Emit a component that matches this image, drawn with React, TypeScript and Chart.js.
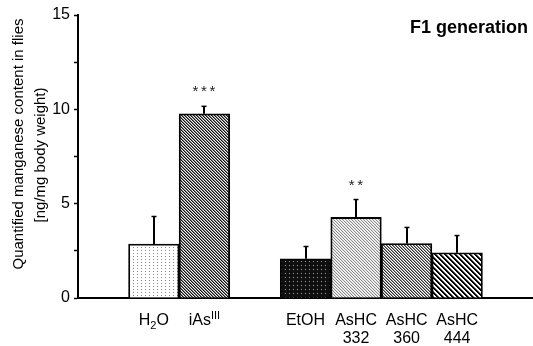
import React, { useEffect, useRef } from "react";
import { Chart, registerables } from "chart.js";

Chart.register(...registerables);

// ---- data ----
const categories = ["", "H2O", "iAsIII", "", "EtOH", "AsHC 332", "AsHC 360", "AsHC 444", ""];
const labelRow1 = ["", "H_{2}O", "iAs^{III}", "", "EtOH", "AsHC", "AsHC", "AsHC", ""];
const labelRow2 = ["", "", "", "", "", "332", "360", "444", ""];
const means: (number | null)[] = [null, 2.86, 9.76, null, 2.08, 4.27, 2.89, 2.4, null];
const errors: (number | null)[] = [null, 1.46, 0.4, null, 0.65, 0.95, 0.85, 0.91, null];
const significance = ["", "", "***", "", "", "**", "", "", ""];
const yMax = 15;
const yStep = 2.5;
const yLabelEvery = 5;
const yTitleLines = ["Quantified manganese content in flies", "[ng/mg body weight)"];
const chartTitle = "F1 generation";

const FONT = "'Liberation Sans', Arial, Helvetica, sans-serif";

function makeTile(w: number, h: number, color: (x: number, y: number) => string) {
  const c = document.createElement("canvas");
  c.width = w;
  c.height = h;
  const ctx = c.getContext("2d")!;
  for (let y = 0; y < h; y++) {
    for (let x = 0; x < w; x++) {
      ctx.fillStyle = color(x, y);
      ctx.fillRect(x, y, 1, 1);
    }
  }
  const main = document.createElement("canvas").getContext("2d")!;
  return main.createPattern(c, "repeat")!;
}

function diag(colors: string[]) {
  const p = colors.length;
  return makeTile(p, p, (x, y) => colors[(((x - y) % p) + p) % p]);
}

function buildPatterns() {
  const dotsLight = makeTile(4, 3, (x, y) => (x === 1 && y === 1 ? "#8a8a8a" : "#ffffff"));
  const dotsDark = makeTile(4, 4, (x, y) => (x === 1 && y === 1 ? "#9a9a9a" : "#101010"));
  const iAs = diag(["#151515", "#7a7a7a", "#eeeeee"]);
  const a332 = diag(["#8c8c8c", "#dddddd", "#ffffff"]);
  const a360 = diag(["#333333", "#9a9a9a", "#ffffff"]);
  const a444 = diag(["#000000", "#000000", "#777777", "#ffffff", "#ffffff"]);
  return ["#fff", dotsLight, iAs, "#fff", dotsDark, a332, a360, a444, "#fff"];
}

type Seg = { t: string; mode: "n" | "sub" | "sup" };
function parseRich(s: string): Seg[] {
  const out: Seg[] = [];
  const re = /(_\{([^}]*)\})|(\^\{([^}]*)\})|([^_^]+)/g;
  let m: RegExpExecArray | null;
  while ((m = re.exec(s))) {
    if (m[2] !== undefined) out.push({ t: m[2], mode: "sub" });
    else if (m[4] !== undefined) out.push({ t: m[4], mode: "sup" });
    else out.push({ t: m[5], mode: "n" });
  }
  return out;
}

function drawRich(ctx: CanvasRenderingContext2D, s: string, cx: number, baseline: number, size: number) {
  const segs = parseRich(s);
  const small = Math.round(size * 0.68);
  const fontFor = (seg: Seg) => `${seg.mode === "n" ? size : small}px ${FONT}`;
  let total = 0;
  for (const seg of segs) {
    ctx.font = fontFor(seg);
    total += ctx.measureText(seg.t).width;
  }
  let x = cx - total / 2;
  ctx.textAlign = "left";
  ctx.textBaseline = "alphabetic";
  for (const seg of segs) {
    ctx.font = fontFor(seg);
    const dy = seg.mode === "sub" ? size * 0.25 : seg.mode === "sup" ? -size * 0.4 : 0;
    ctx.fillText(seg.t, x, baseline + dy);
    x += ctx.measureText(seg.t).width;
  }
}

const overlayPlugin = {
  id: "overlay",
  afterDatasetsDraw(chart: any) {
    const ctx: CanvasRenderingContext2D = chart.ctx;
    const y = chart.scales.y;
    const meta = chart.getDatasetMeta(0);
    ctx.save();
    meta.data.forEach((bar: any, i: number) => {
      const m = means[i];
      const e = errors[i];
      if (m == null || e == null) return;
      const x = Math.round(bar.x);
      const yTop = y.getPixelForValue(m);
      const yErr = y.getPixelForValue(m + e);
      ctx.strokeStyle = "#000";
      ctx.lineWidth = 2;
      ctx.beginPath();
      ctx.moveTo(x, yTop);
      ctx.lineTo(x, yErr);
      ctx.stroke();
      ctx.lineWidth = 1.5;
      ctx.beginPath();
      ctx.moveTo(x - 2.5, yErr);
      ctx.lineTo(x + 2.5, yErr);
      ctx.stroke();
      const sig = significance[i];
      if (sig) {
        ctx.fillStyle = "#222";
        ctx.font = `15px ${FONT}`;
        ctx.textAlign = "center";
        ctx.textBaseline = "alphabetic";
        const n = sig.length;
        for (let k = 0; k < n; k++) {
          ctx.fillText("*", x + (k - (n - 1) / 2) * 8.5, yErr - 10);
        }
      }
    });
    ctx.restore();
  },
  afterDraw(chart: any) {
    const ctx: CanvasRenderingContext2D = chart.ctx;
    const xs = chart.scales.x;
    const area = chart.chartArea;
    ctx.save();
    ctx.fillStyle = "#000";
    // x labels
    categories.forEach((_, i) => {
      const cx = xs.getPixelForValue(i);
      if (labelRow1[i]) drawRich(ctx, labelRow1[i], cx, area.bottom + 27, 16);
      if (labelRow2[i]) drawRich(ctx, labelRow2[i], cx, area.bottom + 45, 16);
    });
    // y title
    ctx.font = `15px ${FONT}`;
    ctx.textAlign = "center";
    ctx.textBaseline = "middle";
    const yCenters = [144, 155];
    const xCenters = [19, 41];
    yTitleLines.forEach((line, k) => {
      ctx.save();
      ctx.translate(xCenters[k], yCenters[k]);
      ctx.rotate(-Math.PI / 2);
      ctx.fillText(line, 0, 0);
      ctx.restore();
    });
    // title
    ctx.font = `bold 18px ${FONT}`;
    ctx.textAlign = "right";
    ctx.textBaseline = "alphabetic";
    ctx.fillText(chartTitle, 528, 33);
    ctx.restore();
  },
};

export default function App() {
  const ref = useRef<HTMLCanvasElement>(null);
  useEffect(() => {
    document.body.style.margin = "0";
    const canvas = ref.current!;
    const patterns = buildPatterns();
    const chart = new Chart(canvas, {
      type: "bar",
      data: {
        labels: categories,
        datasets: [
          {
            data: means as any,
            backgroundColor: patterns as any,
            borderColor: "#000",
            borderWidth: 1.8,
            barPercentage: 1,
            categoryPercentage: 1,
          },
        ],
      },
      options: {
        responsive: false,
        animation: false,
        devicePixelRatio: 1,
        layout: { padding: { top: 15, right: 0, bottom: 0, left: 0 } },
        plugins: { legend: { display: false }, tooltip: { enabled: false }, title: { display: false } },
        scales: {
          x: {
            type: "category",
            grid: { display: false, drawTicks: false },
            border: { display: true, color: "#000", width: 2 },
            ticks: { display: false },
            afterFit: (s: any) => {
              s.height = 48;
            },
          },
          y: {
            min: 0,
            max: yMax,
            grid: { display: true, drawOnChartArea: false, drawTicks: true, tickLength: 4, tickWidth: 1.5, tickColor: "#000" },
            border: { display: true, color: "#000", width: 2 },
            ticks: {
              stepSize: yStep,
              color: "#000",
              padding: 4,
              font: { family: FONT, size: 16 },
              callback: (v: any) => (Number(v) % yLabelEvery === 0 ? String(v) : ""),
            },
            afterFit: (s: any) => {
              s.width = 78;
            },
          },
        },
      },
      plugins: [overlayPlugin],
    });
    return () => chart.destroy();
  }, []);
  return <canvas ref={ref} width={533} height={346} style={{ display: "block", width: 533, height: 346 }} />;
}
